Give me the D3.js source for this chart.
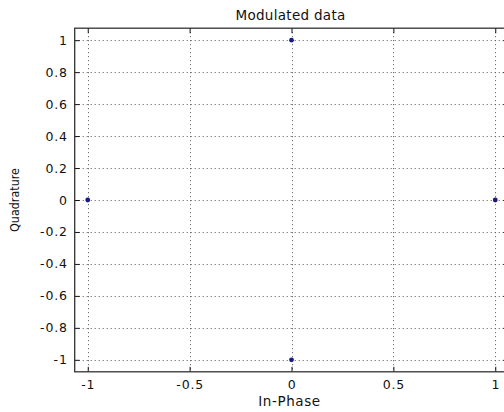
<!DOCTYPE html>
<html><head><meta charset="utf-8">
<script src="https://cdn.jsdelivr.net/npm/d3@7"></script>
<style>body{margin:0;background:#fff}svg{display:block}text{font-family:"DejaVu Sans",sans-serif;fill:#111}</style>
</head><body><svg id="c" width="504" height="412"></svg>
<script>
const inPhase = [1, 0, -1, 0];
const quadrature = [0, 1, 0, -1];
const xTicks = [-1, -0.5, 0, 0.5, 1];
const yTicks = [1, 0.8, 0.6, 0.4, 0.2, 0, -0.2, -0.4, -0.6, -0.8, -1];
const xLim = [-1.064, 1.064];
const yLim = [-1.075, 1.075];

const svg = d3.select("#c");
const x = d3.scaleLinear().domain(xLim).range([74.7, 508.3]);
const y = d3.scaleLinear().domain(yLim).range([371.8, 28.2]);
const [x0, x1] = x.range(), [y0, y1] = y.range();

// grid
const g = svg.append("g");
g.selectAll(".gx").data(xTicks).join("line")
  .attr("x1", d => Math.round(x(d)) + 0.5).attr("x2", d => Math.round(x(d)) + 0.5)
  .attr("y1", y1).attr("y2", y0)
  .attr("stroke", "#555").attr("stroke-dasharray", "1,3");
g.selectAll(".gy").data(yTicks).join("line")
  .attr("y1", d => Math.round(y(d)) + 0.5).attr("y2", d => Math.round(y(d)) + 0.5)
  .attr("x1", x0).attr("x2", x1)
  .attr("stroke", "#555").attr("stroke-dasharray", "1,3");

const fmt = d => String(d);
const xAxisB = d3.axisBottom(x).tickValues(xTicks).tickSizeInner(-5).tickSizeOuter(0).tickPadding(8).tickFormat(fmt);
const xAxisT = d3.axisTop(x).tickValues(xTicks).tickSizeInner(-5).tickSizeOuter(0).tickFormat("");
const yAxisL = d3.axisLeft(y).tickValues(yTicks).tickSizeInner(-5).tickSizeOuter(0).tickPadding(7).tickFormat(fmt);
const yAxisR = d3.axisRight(y).tickValues(yTicks).tickSizeInner(-5).tickSizeOuter(0).tickFormat("");

function style(sel) {
  sel.select(".domain").remove();
  sel.selectAll(".tick line").attr("stroke", "#111");
  sel.selectAll(".tick text").attr("font-size", 12.5).style("font-family", '"DejaVu Sans",sans-serif')
    .style("letter-spacing", "0.8px").attr("fill", "#222");
}
svg.append("g").attr("transform", `translate(0,${y0})`).call(xAxisB).call(style);
svg.append("g").attr("transform", `translate(0,${y1})`).call(xAxisT).call(style);
svg.append("g").attr("transform", `translate(${x0},0)`).call(yAxisL).call(style);
svg.append("g").attr("transform", `translate(${x1},0)`).call(yAxisR).call(style);

// frame
svg.append("rect").attr("x", x0).attr("y", y1).attr("width", x1 - x0).attr("height", y0 - y1)
  .attr("fill", "none").attr("stroke", "#333").attr("stroke-width", 1.3);

// points
svg.selectAll(".pt").data(inPhase.map((v, i) => [v, quadrature[i]])).join("circle")
  .attr("cx", d => x(d[0])).attr("cy", d => y(d[1])).attr("r", 2.4).attr("fill", "#1a1a80");

// labels
const cx = (x(-1) + x(1)) / 2;
svg.append("text").attr("x", cx - 1).attr("y", 20).attr("text-anchor", "middle").attr("font-size", 13.5)
  .style("letter-spacing", "0.3px").attr("fill", "#222").text("Modulated data");
svg.append("text").attr("x", cx - 2).attr("y", 406).attr("text-anchor", "middle").attr("font-size", 13.5)
  .style("letter-spacing", "0.6px").attr("fill", "#222").text("In-Phase");
svg.append("text").attr("transform", `translate(19,${y(0)}) rotate(-90)`).attr("text-anchor", "middle").attr("font-size", 12.5)
  .attr("textLength", 64).attr("lengthAdjust", "spacingAndGlyphs").attr("fill", "#222").text("Quadrature");
</script></body></html>
